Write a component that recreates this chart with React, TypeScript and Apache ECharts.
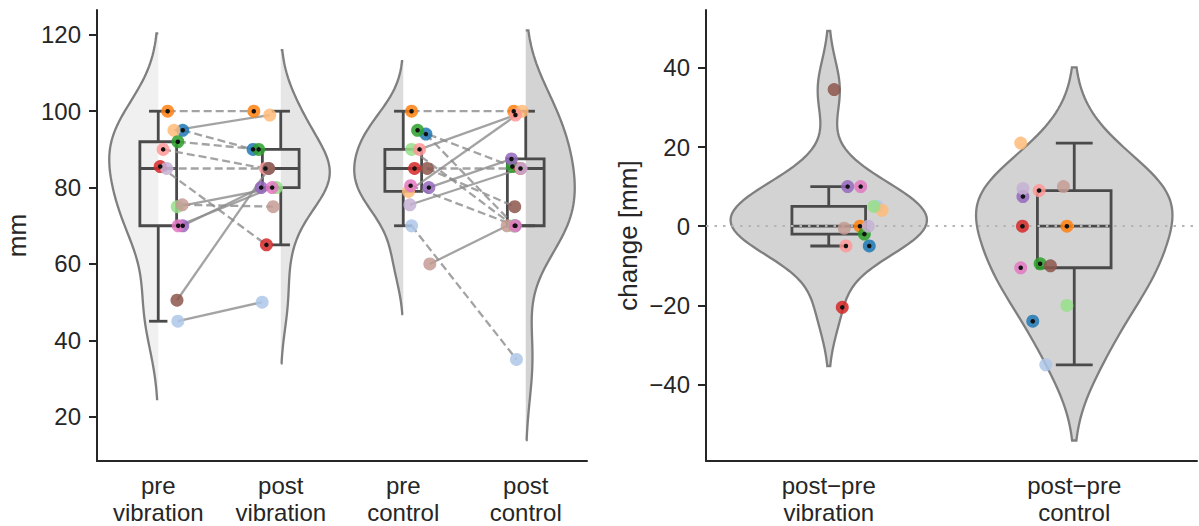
import React, { useEffect, useRef } from 'react';
import * as echarts from 'echarts';

// ---------- data ----------
const SUBJECT_COLORS = [
  '#1f77b4', '#aec7e8', '#ff7f0e', '#ffbb78', '#2ca02c', '#98df8a', '#d62728',
  '#ff9896', '#9467bd', '#c5b0d5', '#8c564b', '#c49c94', '#e377c2',
];
const SUBJECT_MARKED = [1, 0, 1, 0, 1, 0, 1, 1, 1, 0, 0, 0, 1];

const LEFT_CATEGORIES = ['pre\nvibration', 'post\nvibration', 'pre\ncontrol', 'post\ncontrol'];
const RIGHT_CATEGORIES = ['post\u2212pre\nvibration', 'post\u2212pre\ncontrol'];

const VIB_PRE = [95, 45, 100, 95, 92, 75, 85.5, 90, 70, 85, 50.5, 75.5, 70];
const VIB_POST = [90, 50, 100, 99, 90, 80, 65, 85, 80, 85, 85, 75, 80];
const CTRL_PRE = [94, 70, 100, 79, 95, 90, 85, 90, 80, 75.5, 85, 60, 80.5];
const CTRL_POST = [70, 35, 100, 100, 85.5, 70, 85, 99, 87.5, 85, 75, 70, 70];

// strip-plot jitter (fraction of a category step)
const VIB_PRE_JITTER = [0.2, 0.16, 0.077, 0.128, 0.16, 0.155, 0.016, 0.04, 0.2, 0.069, 0.153, 0.196, 0.163];
const VIB_POST_JITTER = [-0.226, -0.152, -0.22, -0.09, -0.18, -0.035, -0.117, -0.125, -0.16, -0.1, -0.098, -0.062, -0.07];
const CTRL_PRE_JITTER = [0.185, 0.068, 0.068, 0.043, 0.117, 0.068, 0.092, 0.133, 0.209, 0.054, 0.196, 0.217, 0.06];
const CTRL_POST_JITTER = [-0.09, -0.076, -0.098, -0.03, -0.109, -0.1, -0.043, -0.084, -0.117, -0.038, -0.09, -0.152, -0.084];
const VIB_DIFF_JITTER = [0.165, 0.197, 0.127, 0.217, 0.145, 0.184, 0.055, 0.07, 0.077, 0.161, 0.022, 0.063, 0.13];
const CTRL_DIFF_JITTER = [-0.169, -0.116, -0.03, -0.218, -0.139, -0.03, -0.211, -0.143, -0.209, -0.209, -0.097, -0.044, -0.218];

const LEFT_TICKS = [20, 40, 60, 80, 100, 120];
const RIGHT_TICKS = [-40, -20, 0, 20, 40];

// ---------- helpers ----------
const FONT = '"Liberation Sans", Arial, sans-serif';
const TEXT = '#262626';
const VIOLIN_EDGE = '#7f7f7f';
const BOX_EDGE = '#4a4a4a';

function kde(values: number[]) {
  const n = values.length;
  const mean = values.reduce((a, b) => a + b, 0) / n;
  const sd = Math.sqrt(values.reduce((a, b) => a + (b - mean) * (b - mean), 0) / (n - 1));
  const bw = sd * Math.pow(n, -0.2);
  const lo = Math.min(...values) - 2 * bw;
  const hi = Math.max(...values) + 2 * bw;
  const m = 100;
  const ys: number[] = [];
  const d: number[] = [];
  for (let i = 0; i < m; i++) {
    const y = lo + ((hi - lo) * i) / (m - 1);
    let s = 0;
    for (const v of values) {
      const z = (y - v) / bw;
      s += Math.exp(-0.5 * z * z);
    }
    ys.push(y);
    d.push(s);
  }
  const mx = Math.max(...d);
  return { ys, d: d.map((v) => v / mx) };
}

function quantile(sorted: number[], p: number) {
  const idx = p * (sorted.length - 1);
  const lo = Math.floor(idx);
  const hi = Math.ceil(idx);
  return sorted[lo] + (sorted[hi] - sorted[lo]) * (idx - lo);
}

function boxStats(values: number[]) {
  const s = [...values].sort((a, b) => a - b);
  const q1 = quantile(s, 0.25);
  const med = quantile(s, 0.5);
  const q3 = quantile(s, 0.75);
  const iqr = q3 - q1;
  const low = Math.min(...s.filter((v) => v >= q1 - 1.5 * iqr));
  const high = Math.max(...s.filter((v) => v <= q3 + 1.5 * iqr));
  return { q1, med, q3, low, high };
}

function violinSeries(xi: number, yi: number, center: number, values: number[], side: string, fill: string) {
  const k = kde(values);
  const halfWidth = 0.4;
  return {
    type: 'custom',
    xAxisIndex: xi,
    yAxisIndex: yi,
    z: 1,
    silent: true,
    clip: false,
    data: [[center, k.ys[0]]],
    renderItem: (_p: any, api: any) => {
      const L: number[][] = [];
      const R: number[][] = [];
      for (let i = 0; i < k.ys.length; i++) {
        const w = halfWidth * k.d[i];
        L.push(api.coord([center - w, k.ys[i]]));
        R.push(api.coord([center + w, k.ys[i]]));
      }
      const first = api.coord([center, k.ys[0]]);
      const last = api.coord([center, k.ys[k.ys.length - 1]]);
      if (side === 'both') {
        const poly = [...L, ...R.reverse()];
        return {
          type: 'polygon',
          shape: { points: poly },
          style: { fill, stroke: VIOLIN_EDGE, lineWidth: 2.3 },
        };
      }
      const curve = side === 'left' ? L : R;
      const poly = [first, ...curve, last];
      return {
        type: 'group',
        children: [
          { type: 'polygon', shape: { points: poly }, style: { fill, stroke: null } },
          { type: 'polyline', shape: { points: poly }, style: { fill: null, stroke: VIOLIN_EDGE, lineWidth: 2.3 } },
        ],
      };
    },
  };
}

function boxSeries(xi: number, yi: number, center: number, values: number[]) {
  const s = boxStats(values);
  const hb = 0.15;
  return {
    type: 'custom',
    xAxisIndex: xi,
    yAxisIndex: yi,
    z: 3,
    silent: true,
    clip: false,
    data: [[center, s.med]],
    renderItem: (_p: any, api: any) => {
      const c = (x: number, y: number) => api.coord([x, y]);
      const st = { stroke: BOX_EDGE, lineWidth: 2.8, fill: null };
      const ln = (a: number[], b: number[]) => ({
        type: 'line',
        shape: { x1: a[0], y1: a[1], x2: b[0], y2: b[1] },
        style: st,
      });
      return {
        type: 'group',
        children: [
          {
            type: 'polygon',
            shape: { points: [c(center - hb, s.q1), c(center + hb, s.q1), c(center + hb, s.q3), c(center - hb, s.q3)] },
            style: st,
          },
          ln(c(center - hb, s.med), c(center + hb, s.med)),
          ln(c(center, s.q3), c(center, s.high)),
          ln(c(center, s.q1), c(center, s.low)),
          ln(c(center - hb / 2, s.high), c(center + hb / 2, s.high)),
          ln(c(center - hb / 2, s.low), c(center + hb / 2, s.low)),
        ],
      };
    },
  };
}

function pointSeries(xi: number, yi: number, groups: { pos: number; vals: number[]; jit: number[] }[]) {
  const pts: any[] = [];
  const dots: any[] = [];
  groups.forEach((g) => {
    g.vals.forEach((v, i) => {
      const x = g.pos + g.jit[i];
      pts.push({ value: [x, v], itemStyle: { color: SUBJECT_COLORS[i] } });
      if (SUBJECT_MARKED[i]) dots.push([x, v]);
    });
  });
  return [
    {
      type: 'scatter',
      xAxisIndex: xi,
      yAxisIndex: yi,
      z: 5,
      silent: true,
      symbolSize: 13,
      itemStyle: { opacity: 0.85 },
      data: pts,
    },
    {
      type: 'scatter',
      xAxisIndex: xi,
      yAxisIndex: yi,
      z: 6,
      silent: true,
      symbolSize: 4.5,
      itemStyle: { color: '#111111', opacity: 1 },
      data: dots,
    },
  ];
}

function connectorSeries(rows: number[][]) {
  return {
    type: 'custom',
    xAxisIndex: 1,
    yAxisIndex: 0,
    z: 4,
    silent: true,
    clip: false,
    encode: { x: [0, 2], y: [1, 3] },
    data: rows,
    renderItem: (_p: any, api: any) => {
      const a = api.coord([api.value(0), api.value(1)]);
      const b = api.coord([api.value(2), api.value(3)]);
      const style: any = { stroke: 'rgba(140,140,140,0.8)', lineWidth: 2.3 };
      if (api.value(4) === 1) style.lineDash = [8, 4];
      return { type: 'line', shape: { x1: a[0], y1: a[1], x2: b[0], y2: b[1] }, style };
    },
  };
}

// ---------- component ----------
export default function App() {
  const ref = useRef<HTMLDivElement>(null);

  useEffect(() => {
    document.body.style.margin = '0';
    const chart = echarts.init(ref.current!, null, { renderer: 'svg' });

    const vibDiff = VIB_POST.map((v, i) => v - VIB_PRE[i]);
    const ctrlDiff = CTRL_POST.map((v, i) => v - CTRL_PRE[i]);

    const rows: number[][] = [];
    VIB_PRE.forEach((v, i) => {
      rows.push([0 + VIB_PRE_JITTER[i], v, 1 + VIB_POST_JITTER[i], VIB_POST[i], VIB_POST[i] <= v ? 1 : 0]);
    });
    CTRL_PRE.forEach((v, i) => {
      rows.push([2 + CTRL_PRE_JITTER[i], v, 3 + CTRL_POST_JITTER[i], CTRL_POST[i], CTRL_POST[i] <= v ? 1 : 0]);
    });

    const catAxis = (grid: number, data: string[]) => ({
      gridIndex: grid,
      type: 'category',
      data,
      boundaryGap: true,
      axisLine: { onZero: false, lineStyle: { color: TEXT, width: 2 } },
      axisTick: { alignWithLabel: true, length: 8, lineStyle: { color: TEXT, width: 2 } },
      axisLabel: { fontSize: 24, color: TEXT, fontFamily: FONT, lineHeight: 27, margin: 11 },
      splitLine: { show: false },
    });

    const valAxis = (grid: number, min: number, max: number, ticks: number[], name: string, gap: number) => ({
      gridIndex: grid,
      type: 'value',
      min,
      max,
      name,
      nameLocation: 'middle',
      nameGap: gap,
      nameTextStyle: { fontSize: 26, color: TEXT, fontFamily: FONT },
      axisLine: { show: true, onZero: false, lineStyle: { color: TEXT, width: 2 } },
      axisTick: { show: true, length: 8, customValues: ticks, lineStyle: { color: TEXT, width: 2 } },
      axisLabel: {
        customValues: ticks,
        fontSize: 24,
        color: TEXT,
        fontFamily: FONT,
        margin: 16,
        formatter: (v: number) => (v < 0 ? '\u2212' + Math.abs(v) : String(v)),
      },
      splitLine: { show: false },
    });

    const option: any = {
      animation: false,
      backgroundColor: '#ffffff',
      textStyle: { fontFamily: FONT },
      grid: [
        { left: 97, top: 10, width: 490, height: 452 },
        { left: 706, top: 10, width: 491, height: 452 },
      ],
      xAxis: [
        catAxis(0, LEFT_CATEGORIES),
        { gridIndex: 0, type: 'value', min: -0.5, max: 3.5, show: false, axisLine: { onZero: false } },
        catAxis(1, RIGHT_CATEGORIES),
        { gridIndex: 1, type: 'value', min: -0.5, max: 1.5, show: false, axisLine: { onZero: false } },
      ],
      yAxis: [
        valAxis(0, 8.4, 126.5, LEFT_TICKS, 'mm', 67),
        valAxis(1, -59.3, 54.6, RIGHT_TICKS, 'change [mm]', 65),
      ],
      series: [
        violinSeries(1, 0, 0, VIB_PRE, 'left', '#f0f0f0'),
        violinSeries(1, 0, 1, VIB_POST, 'right', '#e6e6e6'),
        violinSeries(1, 0, 2, CTRL_PRE, 'left', '#dcdcdc'),
        violinSeries(1, 0, 3, CTRL_POST, 'right', '#d3d3d3'),
        violinSeries(3, 1, 0, vibDiff, 'both', '#d3d3d3'),
        violinSeries(3, 1, 1, ctrlDiff, 'both', '#d3d3d3'),
        {
          type: 'scatter',
          xAxisIndex: 3,
          yAxisIndex: 1,
          z: 2,
          silent: true,
          data: [],
          markLine: {
            silent: true,
            symbol: ['none', 'none'],
            label: { show: false },
            lineStyle: { type: [2.5, 6], color: '#b5b5b5', width: 2 },
            data: [{ yAxis: 0 }],
          },
        },
        boxSeries(1, 0, 0, VIB_PRE),
        boxSeries(1, 0, 1, VIB_POST),
        boxSeries(1, 0, 2, CTRL_PRE),
        boxSeries(1, 0, 3, CTRL_POST),
        boxSeries(3, 1, 0, vibDiff),
        boxSeries(3, 1, 1, ctrlDiff),
        connectorSeries(rows),
        ...pointSeries(1, 0, [
          { pos: 0, vals: VIB_PRE, jit: VIB_PRE_JITTER },
          { pos: 1, vals: VIB_POST, jit: VIB_POST_JITTER },
          { pos: 2, vals: CTRL_PRE, jit: CTRL_PRE_JITTER },
          { pos: 3, vals: CTRL_POST, jit: CTRL_POST_JITTER },
        ]),
        ...pointSeries(3, 1, [
          { pos: 0, vals: vibDiff, jit: VIB_DIFF_JITTER },
          { pos: 1, vals: ctrlDiff, jit: CTRL_DIFF_JITTER },
        ]),
      ],
    };

    chart.setOption(option);
    return () => chart.dispose();
  }, []);

  return <div ref={ref} style={{ width: 1199, height: 526 }} />;
}
